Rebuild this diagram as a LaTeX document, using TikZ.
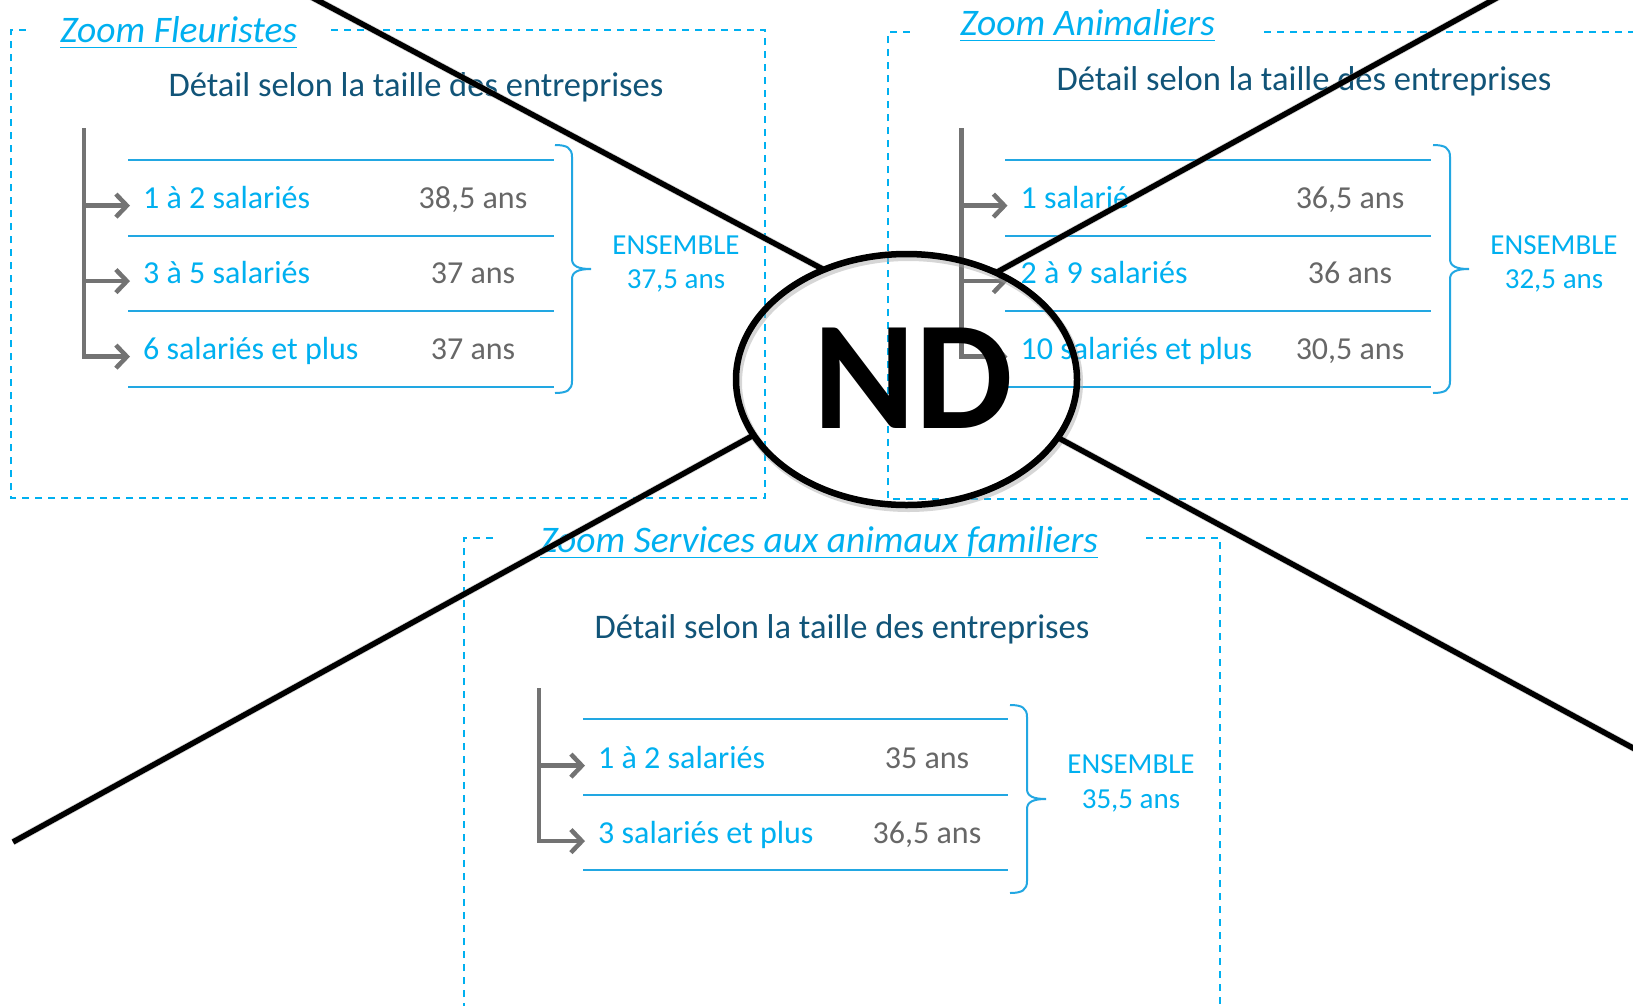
\documentclass[tikz,border=0pt]{standalone}
\usepackage{fontspec}
\setmainfont{Carlito}
\usetikzlibrary{arrows.meta, shapes.geometric, positioning}
\definecolor{ZoomBlue}{HTML}{00B0F0}
\definecolor{RuleBlue}{HTML}{22A7E2}
\definecolor{TitleTeal}{HTML}{115478}
\definecolor{ValueGray}{HTML}{676767}
\definecolor{BranchGray}{HTML}{737373}

% right-hand brace: spine x, top y, bottom y, tick y
\newcommand{\agebrace}[4]{%
   \draw[bracket] ({#1-17},#2) .. controls ({#1-5},#2) and (#1,{#2+3}) .. (#1,{#2+12})
      -- (#1,{#4-10}) .. controls (#1,{#4-3}) and ({#1+6},#4) .. ({#1+19},#4)
      .. controls ({#1+6},#4) and (#1,{#4+3}) .. (#1,{#4+10})
      -- (#1,{#3-12}) .. controls (#1,{#3-3}) and ({#1-5},#3) .. ({#1-17},#3);}

\begin{document}
\begin{tikzpicture}[x=1pt, y=-1pt,
      zoomframe/.style={ZoomBlue, line width=2pt, dash pattern=on 7pt off 6pt},
      paneltitle/.style={anchor=base west, inner sep=0pt, text=ZoomBlue,
         font=\fontsize{37.5pt}{44pt}\selectfont\itshape},
      titleline/.style={ZoomBlue, line width=1.8pt},
      subtitle/.style={anchor=base, inner sep=0pt, text=TitleTeal,
         font=\fontsize{34.5pt}{41pt}\selectfont},
      rowlabel/.style={anchor=base west, inner sep=0pt, text=ZoomBlue,
         font=\fontsize{32pt}{38pt}\selectfont},
      rowvalue/.style={anchor=base, inner sep=0pt, text=ValueGray,
         font=\fontsize{32pt}{38pt}\selectfont},
      totallabel/.style={anchor=base, inner sep=0pt, text=ZoomBlue,
         font=\fontsize{29pt}{34pt}\selectfont},
      rowrule/.style={RuleBlue, line width=2pt},
      bracket/.style={RuleBlue, line width=2pt},
      branch/.style={BranchGray, line width=4.5pt, -{Straight Barb[length=11pt, width=23pt]}},
      branchline/.style={BranchGray, line width=4.5pt, line cap=rect},
      crossline/.style={black, line width=5.5pt},
      crossshade/.style={black!35, opacity=0.45, line width=7pt},
   ]
   \useasboundingbox (0,0) rectangle (1633,1005);
   \fill[white] (0,0) rectangle (1633,1005);
   \clip (0,0) rectangle (1633,1005);

   % ---------- Zoom Fleuristes ----------
   \draw[zoomframe] (331,30) -| (765,498) -| (11,30) -- (28,30);
   \node[paneltitle] (fl-title) at (60,42) {Zoom Fleuristes};
   \draw[titleline] ([yshift=-5.5pt]fl-title.base west) -- ([yshift=-5.5pt]fl-title.base east);
   \node[subtitle] (fl-sub) at (416,96) {Détail selon la taille des entreprises};
   \coordinate (fl-top) at (84,130);
   \foreach \k in {0,...,3}
      \draw[rowrule] (128,{160+75.5*\k}) -- (554,{160+75.5*\k});
   \foreach \lab/\val [count=\i] in {{1 à 2 salariés}/{38,5 ans},{3 à 5 salariés}/{37 ans},{6 salariés et plus}/{37 ans}}{
      \node[rowlabel] (fl-r\i) at (143,{208+75.5*(\i-1)}) {\lab};
      \node[rowvalue] (fl-v\i) at (473,{208+75.5*(\i-1)}) {\val};
      \draw[branch] (fl-top |- fl-r\i.mid west) -- ([xshift=-13pt]fl-r\i.mid west);
   }
   \draw[branchline] (fl-top) -- (fl-top |- fl-r3.mid west);
   \agebrace{572}{145}{393}{269}
   \node[totallabel] (fl-ens) at (676,254) {ENSEMBLE};
   \node[totallabel] (fl-avg) at (676,288) {37,5 ans};

   % ---------- Zoom Animaliers ----------
   \draw[zoomframe] (1264,32) -| (1700,499) -| (888,32) -- (915,32);
   \node[paneltitle] (an-title) at (960,35) {Zoom Animaliers};
   \draw[titleline] ([yshift=-5.5pt]an-title.base west) -- ([yshift=-5.5pt]an-title.base east);
   \node[subtitle] (an-sub) at (1304,90) {Détail selon la taille des entreprises};
   \coordinate (an-top) at (961.5,130);
   \foreach \k in {0,...,3}
      \draw[rowrule] (1005,{160+75.5*\k}) -- (1431,{160+75.5*\k});
   \foreach \lab/\val [count=\i] in {{1 salarié}/{36,5 ans},{2 à 9 salariés}/{36 ans},{10 salariés et plus}/{30,5 ans}}{
      \node[rowlabel] (an-r\i) at (1020.5,{208+75.5*(\i-1)}) {\lab};
      \node[rowvalue] (an-v\i) at (1350,{208+75.5*(\i-1)}) {\val};
      \draw[branch] (an-top |- an-r\i.mid west) -- ([xshift=-13pt]an-r\i.mid west);
   }
   \draw[branchline] (an-top) -- (an-top |- an-r3.mid west);
   \agebrace{1450}{145}{393}{269}
   \node[totallabel] (an-ens) at (1554,254) {ENSEMBLE};
   \node[totallabel] (an-avg) at (1554,288) {32,5 ans};

   % ---------- Zoom Services aux animaux familiers ----------
   \draw[zoomframe] (1146,538) -| (1220,1100) -| (464,538) -- (496,538);
   \node[paneltitle] (sv-title) at (540,552) {Zoom Services aux animaux familiers};
   \draw[titleline] ([yshift=-5.5pt]sv-title.base west) -- ([yshift=-5.5pt]sv-title.base east);
   \node[subtitle] (sv-sub) at (842,638) {Détail selon la taille des entreprises};
   \coordinate (sv-top) at (539,690);
   \foreach \k in {0,...,2}
      \draw[rowrule] (583,{719+75.5*\k}) -- (1008,{719+75.5*\k});
   \foreach \lab/\val [count=\i] in {{1 à 2 salariés}/{35 ans},{3 salariés et plus}/{36,5 ans}}{
      \node[rowlabel] (sv-r\i) at (598,{768+75.5*(\i-1)}) {\lab};
      \node[rowvalue] (sv-v\i) at (927,{768+75.5*(\i-1)}) {\val};
      \draw[branch] (sv-top |- sv-r\i.mid west) -- ([xshift=-13pt]sv-r\i.mid west);
   }
   \draw[branchline] (sv-top) -- (sv-top |- sv-r2.mid west);
   \agebrace{1027}{705}{893}{799}
   \node[totallabel] (sv-ens) at (1131,773) {ENSEMBLE};
   \node[totallabel] (sv-avg) at (1131,808) {35,5 ans};

   % ---------- ND stamp ----------
   \node[ellipse, minimum width=341pt, minimum height=251pt, inner sep=0pt]
      (nd-ring) at (906.5,379.5) {};
   \coordinate (cross-nw) at (307.6,-5);
   \coordinate (cross-ne) at (1502,-5);
   \coordinate (cross-sw) at (13,842);
   \coordinate (cross-se) at (1643,753.4);
   % soft shadow under the stamp
   \begin{scope}[xshift=2pt, yshift=-3pt]
      \draw[crossshade, line width=8pt] (906.5,379.5) ellipse [x radius=170.5, y radius=125.5];
      \draw[crossshade] (nd-ring.127.6) -- (cross-nw);
      \draw[crossshade] (nd-ring.50.4) -- (cross-ne);
      \draw[crossshade] (nd-ring.200.7) -- (cross-sw);
      \draw[crossshade] (nd-ring.339.2) -- (cross-se);
   \end{scope}
   \draw[black, line width=6.5pt] (906.5,379.5) ellipse [x radius=170.5, y radius=125.5];
   \draw[crossline] (nd-ring.127.6) -- (cross-nw);
   \draw[crossline] (nd-ring.50.4) -- (cross-ne);
   \draw[crossline] (nd-ring.200.7) -- (cross-sw);
   \draw[crossline] (nd-ring.339.2) -- (cross-se);
   \node[anchor=base, inner sep=0pt, font=\fontsize{155pt}{160pt}\selectfont\bfseries]
      (nd-text) at (913,428) {ND};
\end{tikzpicture}
\end{document}
